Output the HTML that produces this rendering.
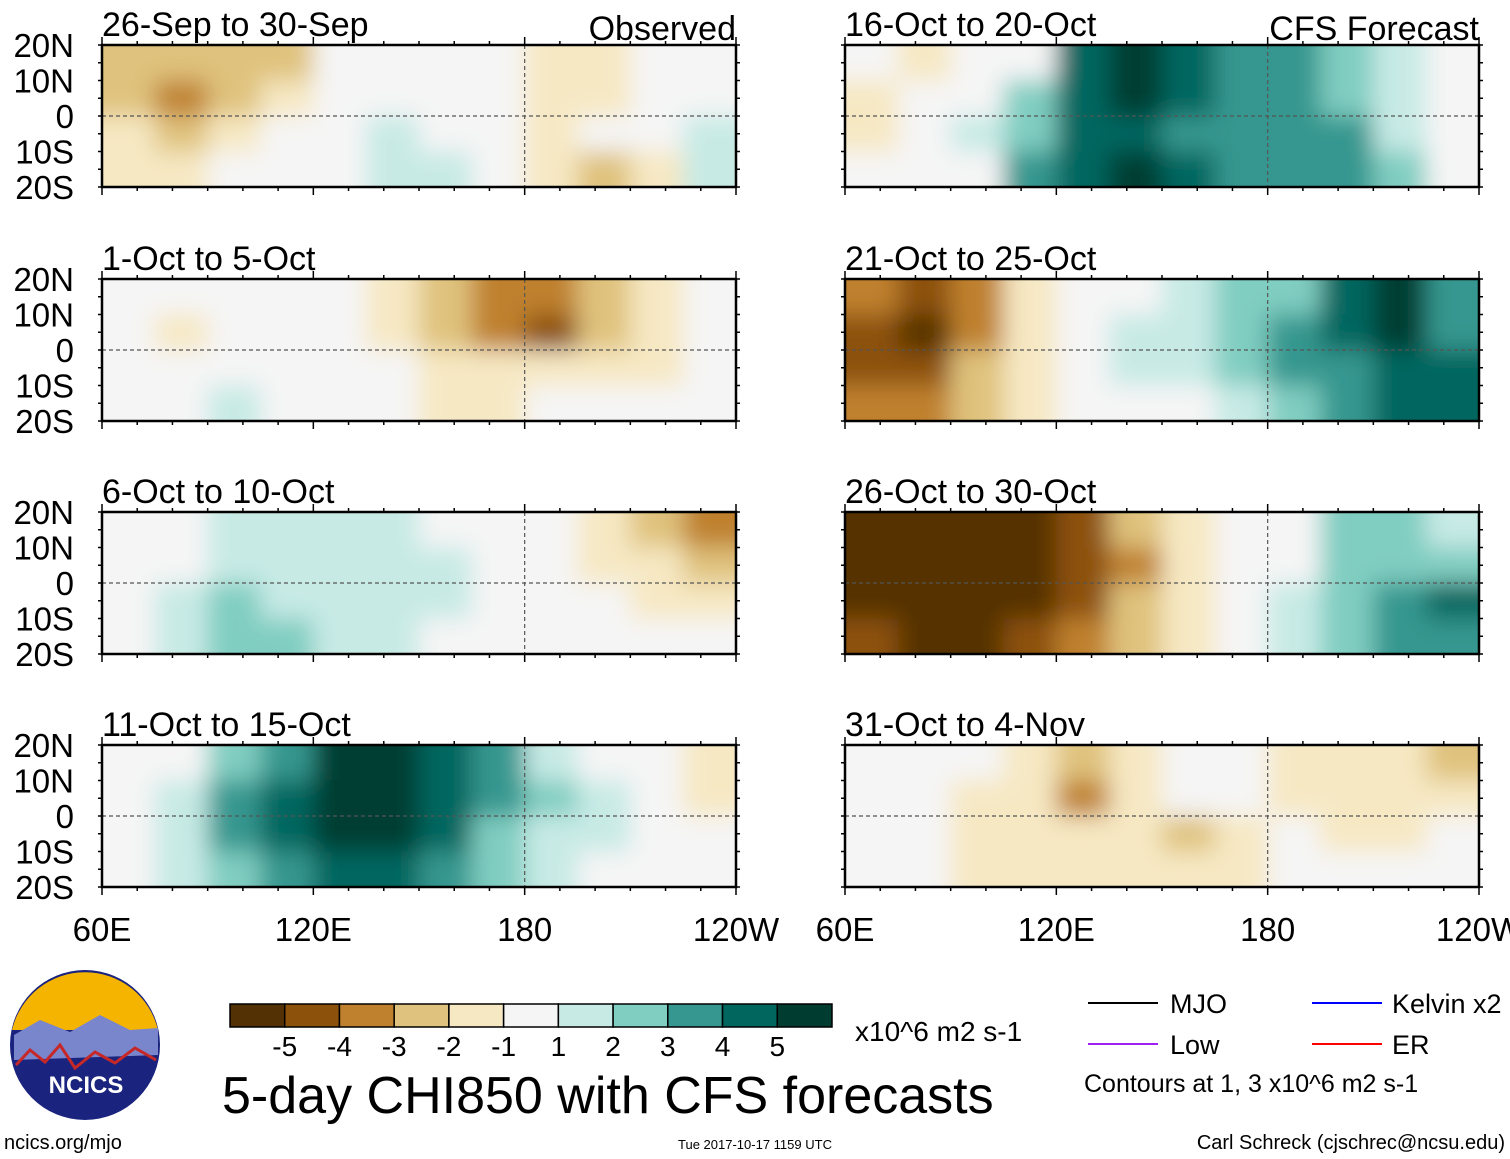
<!DOCTYPE html>
<html><head><meta charset="utf-8">
<style>
body{margin:0;background:#fff;width:1510px;height:1159px;overflow:hidden;font-family:"Liberation Sans",sans-serif}
svg{display:block}
</style></head><body>
<svg id="chart" width="1510" height="1159" font-family="Liberation Sans, sans-serif">
<defs>
<clipPath id="pc"><rect x="0" y="0" width="634" height="142"/></clipPath>
<filter id="bl" x="-10%" y="-20%" width="120%" height="140%"><feGaussianBlur stdDeviation="12"/></filter>
</defs>
<g id="panels"></g>
<g id="bottom">
  <g>
    <circle cx="85" cy="1045" r="75" fill="#1a237e"/>
    <path d="M12,1030 A75,75 0 0 1 158,1030 Z" fill="#f4b400"/>
    <path d="M14,1035 L40,1020 L70,1032 L100,1015 L130,1030 L158,1028 L158,1055 L14,1060 Z" fill="#7986cb"/>
    <path d="M16,1065 L30,1050 L45,1062 L60,1045 L75,1068 L95,1052 L115,1063 L135,1048 L156,1060" fill="none" stroke="#c62828" stroke-width="3"/>
    <text x="86" y="1093" font-size="24" font-weight="bold" fill="#fff" text-anchor="middle">NCICS</text>
  </g>
  <g id="cbar"></g>
  <text x="855" y="1041" font-size="28">x10^6 m2 s-1</text>
  <text x="222" y="1113" font-size="52">5-day CHI850 with CFS forecasts</text>
  <g font-size="27">
    <line x1="1088" y1="1003" x2="1158" y2="1003" stroke="#000" stroke-width="2"/><text x="1170" y="1013">MJO</text>
    <line x1="1088" y1="1044" x2="1158" y2="1044" stroke="#a020f0" stroke-width="2"/><text x="1170" y="1054">Low</text>
    <line x1="1312" y1="1003" x2="1382" y2="1003" stroke="#0000ff" stroke-width="2"/><text x="1392" y="1013">Kelvin x2</text>
    <line x1="1312" y1="1044" x2="1382" y2="1044" stroke="#ff0000" stroke-width="2"/><text x="1392" y="1054">ER</text>
    <text x="1084" y="1092" font-size="25">Contours at 1, 3 x10^6 m2 s-1</text>
  </g>
  <text x="4" y="1149" font-size="20">ncics.org/mjo</text>
  <text x="755" y="1149" font-size="13" text-anchor="middle">Tue 2017-10-17 1159 UTC</text>
  <text x="1505" y="1149" font-size="20" text-anchor="end">Carl Schreck (cjschrec@ncsu.edu)</text>
</g>
</svg>
<script>
const colors=["#543005","#8c510a","#bf812d","#dfc27d","#f6e8c3","#f5f5f5","#c7eae5","#80cdc1","#35978f","#01665e","#003c30"];
const cbarLabels=["-5","-4","-3","-2","-1","1","2","3","4","5"];
const titles=["26-Sep to 30-Sep","1-Oct to 5-Oct","6-Oct to 10-Oct","11-Oct to 15-Oct","16-Oct to 20-Oct","21-Oct to 25-Oct","26-Oct to 30-Oct","31-Oct to 4-Nov"];
const latLabels=["20N","10N","0","10S","20S"];
const lonLabels=["60E","120E","180","120W"];
// field values per panel: rows 20N-10N, 10N-0, 0-10S, 10S-20S; columns 15deg from 60E
const p1=[[-2,-2,-2,-2,0,0,0,0,-1,-1,0,0],[-2,-3,-2,-1,0,0,0,0,-1,-1,0,0],[-1,-2,-1,0,0,1,0,0,-1,0,0,1],[-1,-1,0,0,0,1,1,0,-1,-2,-1,1]];
const p2=[[0,0,0,0,0,-1,-2,-3,-3,-2,-1,0],[0,-1,0,0,0,-1,-2,-3,-4,-2,-1,0],[0,0,0,0,0,0,-1,-1,-1,-1,-1,0],[0,0,1,0,0,0,-1,-1,0,0,0,0]];
const p3=[[0,0,1,1,1,1,0,0,0,-1,-2,-3],[0,0,1,1,1,1,1,0,0,-1,-1,-2],[0,1,2,1,1,1,1,0,0,0,-1,-1],[0,1,2,2,1,1,0,0,0,0,0,0]];
const p4=[[0,0,2,3,5,5,4,3,1,0,0,-1],[0,1,3,4,5,5,4,3,2,1,0,-1],[0,1,3,4,5,5,4,2,1,1,0,0],[0,1,2,3,4,4,3,2,1,0,0,0]];
const p5=[[0,-1,0,0,4,5,4,3,3,2,1,0],[-1,0,0,2,4,5,4,3,3,2,1,0],[-1,0,1,2,4,4,3,3,3,3,1,0],[0,0,0,3,4,5,4,3,3,3,2,0]];
const p6=[[-3,-4,-3,-1,0,0,1,2,2,4,5,3],[-4,-5,-3,-1,0,1,1,2,3,4,5,3],[-4,-4,-2,-1,0,1,1,2,3,3,4,4],[-3,-3,-2,-1,0,0,0,1,2,3,4,4]];
const p7=[[-5,-5,-5,-5,-4,-2,-1,0,0,2,2,1],[-5,-5,-5,-5,-4,-3,-1,0,0,2,2,2],[-5,-5,-5,-5,-4,-2,-1,0,1,2,3,4],[-4,-5,-5,-4,-3,-2,-1,0,1,2,3,3]];
const p8=[[0,0,0,-1,-2,-1,0,0,-1,-1,-1,-2],[0,0,-1,-1,-3,-1,0,0,-1,-1,-1,-1],[0,0,-1,-1,-1,-1,-2,-1,0,-1,-1,0],[0,0,-1,-1,-1,-1,-1,-1,0,0,0,0]];
const fields=[p1,p2,p3,p4,p5,p6,p7,p8];

const NS="http://www.w3.org/2000/svg";
function mk(t,a,p){const e=document.createElementNS(NS,t);for(const k in a)e.setAttribute(k,a[k]);p.appendChild(e);return e;}
function colorFor(v){return colors[v+5];}
const W=634,H=142;
const lonX=l=>(l-60)/180*W;
const latY=la=>(20-la)/40*H;
const panelsG=document.getElementById('panels');
fields.forEach((f,i)=>{
  const col=i<4?0:1,row=i%4;
  const x0=col?845:102,y0=[45,279,512,745][row];
  const g=mk('g',{transform:`translate(${x0},${y0})`},panelsG);
  
  
  const inner=mk('g',{'clip-path':'url(#pc)'},g);
  mk('rect',{x:0,y:0,width:W,height:H,fill:'#f5f5f5'},inner);
  const fg=mk('g',{filter:'url(#bl)'},inner);
  f.forEach((r,ri)=>r.forEach((v,ci)=>{
    const lonA=60+ci*15,latA=20-ri*10;
    const x=lonX(lonA)-(ci==0?30:0),y=latY(latA)-(ri==0?30:0);
    const w=lonX(lonA+15)-lonX(lonA)+(ci==0||ci==11?30:0)+0.5;
    const h=latY(latA-10)-latY(latA)+(ri==0||ri==3?30:0)+0.5;
    const c=mk('rect',{x:x,y:y,width:w,height:h,fill:colorFor(v)},fg);
    
    
  }));
  mk('line',{x1:0,y1:latY(0),x2:W,y2:latY(0),stroke:'#555','stroke-dasharray':'4,3','stroke-width':1.2},g);
  mk('line',{x1:lonX(180),y1:0,x2:lonX(180),y2:H,stroke:'#555','stroke-dasharray':'4,3','stroke-width':1.2},g);
  mk('rect',{x:0,y:0,width:W,height:H,fill:'none',stroke:'#000','stroke-width':2.5},g);
  for(let l=60;l<=240;l+=10){const x=lonX(l),len=(l%60==0)?8:4;
    mk('line',{x1:x,y1:0,x2:x,y2:-len,stroke:'#000','stroke-width':1.5},g);
    mk('line',{x1:x,y1:H,x2:x,y2:H+len,stroke:'#000','stroke-width':1.5},g);}
  for(let la=-20;la<=20;la+=5){const y=latY(la);
    mk('line',{x1:0,y1:y,x2:-4,y2:y,stroke:'#000','stroke-width':1.5},g);
    mk('line',{x1:W,y1:y,x2:W+4,y2:y,stroke:'#000','stroke-width':1.5},g);}
  const t=mk('text',{x:0,y:-9,'font-size':34},g);t.textContent=titles[i];
  
  
  if(row==0){const s=mk('text',{x:W,y:-5,'font-size':34,'text-anchor':'end'},g);s.textContent=col?'CFS Forecast':'Observed';}
  if(col==0){latLabels.forEach((lb,k)=>{const tt=mk('text',{x:-28,y:latY(20-k*10)+12,'font-size':33,'text-anchor':'end'},g);tt.textContent=lb;});}
  if(row==3){lonLabels.forEach((lb,k)=>{const tt=mk('text',{x:lonX(60+k*60),y:H+54,'font-size':33,'text-anchor':'middle'},g);tt.textContent=lb;
    
    });}
});
const cb=document.getElementById('cbar');
const bw=602/11;
colors.forEach((c,k)=>{const r=mk('rect',{x:230+k*bw,y:1004,width:bw,height:23,fill:c,stroke:'#000','stroke-width':1.5},cb);
  
  });
cbarLabels.forEach((lb,k)=>{const t=mk('text',{x:230+(k+1)*bw,y:1056,'font-size':28,'text-anchor':'middle'},cb);t.textContent=lb;});
</script>
</body></html>
